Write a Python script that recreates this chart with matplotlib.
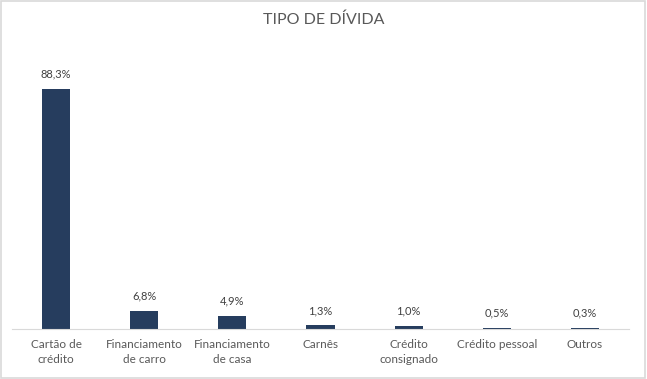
import numpy as np
import matplotlib.pyplot as plt

categorias = ["Cartão de\ncrédito", "Financiamento\nde carro", "Financiamento\nde casa",
              "Carnês", "Crédito\nconsignado", "Crédito pessoal", "Outros"]
valores = [88.3, 6.8, 4.9, 1.3, 1.0, 0.5, 0.3]
rotulos = ["88,3%", "6,8%", "4,9%", "1,3%", "1,0%", "0,5%", "0,3%"]

plt.rcParams['font.family'] = ['Lato', 'DejaVu Sans']

fig = plt.figure(figsize=(6.47, 3.79), dpi=100)
ax = fig.add_axes([12 / 647, 50 / 379, 617 / 647, 272 / 379])

x = np.arange(len(categorias))
ax.bar(x, valores, width=0.32, color='#263D5E')
for xi, v, r in zip(x, valores, rotulos):
    ax.text(xi, v + 3.5, r, ha='center', va='bottom', fontsize=8, color='#404040')

ax.set_xlim(-0.5, len(categorias) - 0.5)
ax.set_ylim(0, 100)
ax.set_xticks(x)
ax.set_xticklabels(categorias, fontsize=8.5, color='#595959', linespacing=1.5)
ax.tick_params(axis='x', length=0, pad=7)
ax.set_yticks([])
for s in ['top', 'left', 'right']:
    ax.spines[s].set_visible(False)
ax.spines['bottom'].set_color('#D9D9D9')

fig.text(0.5, 1 - 20 / 379, "TIPO DE DÍVIDA", ha='center', va='center',
         fontsize=11.5, color='#595959')

# moldura do gráfico
fig.patches.append(plt.Rectangle((0.002, 0.003), 0.995, 0.994, transform=fig.transFigure,
                                 fill=False, edgecolor='#D9D9D9', linewidth=1.2))

fig.savefig('out.png', dpi=100)
